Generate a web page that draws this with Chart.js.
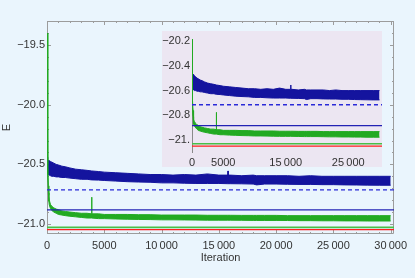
<!DOCTYPE html>
<html><head><meta charset="utf-8">
<script src="https://cdn.jsdelivr.net/npm/chart.js@4/dist/chart.umd.min.js"></script>
<style>
html,body{margin:0;padding:0;background:#eaf5fd;}
#wrap{position:relative;width:415px;height:278px;background:#eaf5fd;overflow:hidden;}
#main{position:absolute;left:0;top:0;}
#inset{position:absolute;left:162px;top:31px;background:#ece6f2;}
</style></head><body>
<div id="wrap"><canvas id="main" width="415" height="278"></canvas><canvas id="inset" width="220" height="136"></canvas></div>
<script>
// ---- data ----
const iterations = [0,40,80,120,160,200,300,400,600,800,1000,1300,1600,2000,2500,3000,3500,3880,3900,3920,4500,5000,6000,7000,8000,9000,10000,11000,12000,13000,14000,15000,15780,15800,15820,16000,17000,18000,18300,19000,20000,21000,22000,23000,24000,25000,26000,27000,28000,29000,30000];
const blueHigh = [-20.44,-20.45,-20.46,-20.465,-20.47,-20.47,-20.475,-20.48,-20.49,-20.5,-20.505,-20.515,-20.52,-20.53,-20.54,-20.545,-20.55,-20.555,-20.555,-20.555,-20.56,-20.565,-20.57,-20.575,-20.58,-20.585,-20.585,-20.59,-20.585,-20.59,-20.58,-20.59,-20.59,-20.555,-20.59,-20.59,-20.595,-20.59,-20.595,-20.595,-20.595,-20.595,-20.6,-20.595,-20.6,-20.6,-20.6,-20.6,-20.6,-20.6,-20.6];
const blueLow  = [-20.52,-20.57,-20.58,-20.585,-20.59,-20.59,-20.595,-20.6,-20.6,-20.605,-20.605,-20.61,-20.61,-20.615,-20.62,-20.625,-20.625,-20.63,-20.63,-20.63,-20.632,-20.635,-20.64,-20.645,-20.648,-20.65,-20.655,-20.655,-20.658,-20.66,-20.66,-20.66,-20.662,-20.662,-20.662,-20.662,-20.663,-20.665,-20.672,-20.665,-20.665,-20.667,-20.668,-20.668,-20.67,-20.67,-20.672,-20.673,-20.674,-20.675,-20.675];
const greenHigh = [-19.40,-20.15,-20.50,-20.68,-20.76,-20.80,-20.835,-20.85,-20.865,-20.875,-20.88,-20.89,-20.895,-20.9,-20.905,-20.91,-20.91,-20.915,-20.775,-20.915,-20.915,-20.92,-20.92,-20.92,-20.922,-20.922,-20.925,-20.925,-20.925,-20.925,-20.927,-20.927,-20.927,-20.927,-20.927,-20.927,-20.928,-20.928,-20.928,-20.928,-20.928,-20.93,-20.93,-20.93,-20.93,-20.93,-20.93,-20.93,-20.93,-20.93,-20.93];
const greenLow  = [-19.40,-20.25,-20.58,-20.74,-20.81,-20.84,-20.87,-20.885,-20.9,-20.91,-20.92,-20.925,-20.93,-20.935,-20.94,-20.945,-20.95,-20.95,-20.95,-20.95,-20.955,-20.955,-20.958,-20.96,-20.962,-20.963,-20.965,-20.965,-20.966,-20.967,-20.968,-20.968,-20.968,-20.968,-20.968,-20.968,-20.969,-20.97,-20.97,-20.97,-20.97,-20.971,-20.972,-20.972,-20.973,-20.973,-20.974,-20.974,-20.975,-20.975,-20.975];
const refValues = [-20.714, -20.882, -21.028, -21.047];
const mainXTicks = [0,5000,10000,15000,20000,25000,30000];
const mainXLabels = ['0','5000','10\u2009000','15\u2009000','20\u2009000','25\u2009000','30\u2009000'];
const mainYTicks = [-19.5,-20.0,-20.5,-21.0];
const mainYLabels = ['\u221219.5','\u221220.0','\u221220.5','\u221221.0'];
const insetXTicks = [0,5000,15000,25000];
const insetXLabels = ['0','5000','15\u2009000','25\u2009000'];
const insetYTicks = [-20.2,-20.4,-20.6,-20.8,-21.0];
const insetYLabels = ['\u221220.2','\u221220.4','\u221220.6','\u221220.8','\u221221.'];

// ---- styling ----
const FONT = {family:'"Liberation Sans", Arial, sans-serif', size:11};
const TXT = '#333333';
const BLUE = '#14149e';
const GREEN = '#22aa22';
const refStyles = [
  {color:'#2a2ad8', dash:[4,3], width:1.4},
  {color:'#2222b4', dash:[], width:1.4},
  {color:'#48bf48', dash:[], width:1.6},
  {color:'#ff1e1e', dash:[], width:1.4}
];

function pts(ys){ return iterations.map((x,i)=>({x, y:ys[i]})); }

function buildDatasets(xMax){
  const ds = refValues.map((v,i)=>({
    data:[{x:0,y:v},{x:xMax,y:v}],
    borderColor:refStyles[i].color, borderDash:refStyles[i].dash,
    borderWidth:refStyles[i].width, pointRadius:0, fill:false
  }));
  ds.push({data:pts(greenHigh), borderColor:GREEN, borderWidth:1, pointRadius:0, fill:false});
  ds.push({data:pts(greenLow), borderColor:GREEN, backgroundColor:GREEN, borderWidth:1, pointRadius:0, fill:'-1'});
  ds.push({data:pts(blueHigh), borderColor:BLUE, borderWidth:1, pointRadius:0, fill:false});
  ds.push({data:pts(blueLow), borderColor:BLUE, backgroundColor:BLUE, borderWidth:1, pointRadius:0, fill:'-1'});
  return ds;
}

const frameTicks = {
  id:'frameTicks',
  beforeDatasetsDraw(chart, args, o){
    const {ctx, chartArea:a, scales:{x, y}} = chart;
    ctx.save();
    ctx.strokeStyle = o.color; ctx.lineWidth = 1;
    ctx.beginPath();
    if (o.frame){
      ctx.rect(a.left+0.5, a.top+0.5, a.right-a.left-1, a.bottom-a.top-1);
      for (let v=0; v<=x.max; v+=1000){
        const px = Math.round(x.getPixelForValue(v))+0.5;
        const L = v%5000===0 ? 4 : 2;
        ctx.moveTo(px,a.bottom); ctx.lineTo(px,a.bottom-L);
        ctx.moveTo(px,a.top); ctx.lineTo(px,a.top+L);
      }
      for (let k=Math.ceil(y.min*10); k<=Math.floor(y.max*10); k++){
        const py = Math.round(y.getPixelForValue(k/10))+0.5;
        const L = k%5===0 ? 4 : 2;
        ctx.moveTo(a.left,py); ctx.lineTo(a.left+L,py);
        ctx.moveTo(a.right,py); ctx.lineTo(a.right-L,py);
      }
    } else {
      const px = Math.round(x.getPixelForValue(0))+0.5;
      ctx.moveTo(px,a.top); ctx.lineTo(px,a.bottom);
    }
    ctx.stroke();
    ctx.restore();
  }
};

function makeChart(canvas, cfg){
  return new Chart(canvas, {
    type:'line',
    data:{datasets:buildDatasets(cfg.xMax)},
    options:{
      responsive:false, animation:false, devicePixelRatio:1,
      layout:{padding:cfg.padding},
      elements:{line:{tension:0}},
      plugins:{legend:{display:false}, tooltip:{enabled:false}, frameTicks:{color:cfg.frameColor, frame:cfg.frame}},
      scales:{
        x:{type:'linear', min:0, max:cfg.xMax,
          afterBuildTicks:s=>{ s.ticks = cfg.xTicks.map(v=>({value:v})); },
          ticks:{autoSkip:false, maxRotation:0, minRotation:0, padding:cfg.xPad, font:FONT, color:TXT,
            callback:(v)=>cfg.xLabels[cfg.xTicks.indexOf(v)]},
          grid:{display:false, drawTicks:false}, border:{display:false},
          title:{display:!!cfg.xTitle, text:cfg.xTitle||'', font:FONT, color:TXT, padding:{top:0,bottom:13}},
          afterFit:s=>{ s.height = cfg.xH; }
        },
        y:{type:'linear', min:cfg.yMin, max:cfg.yMax,
          afterBuildTicks:s=>{ s.ticks = cfg.yTicks.map(v=>({value:v})); },
          ticks:{autoSkip:false, padding:cfg.yPad, font:FONT, color:TXT,
            callback:(v)=>cfg.yLabels[cfg.yTicks.findIndex(t=>Math.abs(t-v)<1e-9)]},
          grid:{display:false, drawTicks:false}, border:{display:false},
          title:{display:!!cfg.yTitle, text:cfg.yTitle||'', font:FONT, color:TXT, padding:{top:0,bottom:0}},
          afterFit:s=>{ s.width = cfg.yW; }
        }
      }
    },
    plugins:[frameTicks]
  });
}

makeChart(document.getElementById('main'), {
  xMax:30290, yMin:-21.084, yMax:-19.297,
  padding:{top:21, right:21, left:0, bottom:0},
  xTicks:mainXTicks, xLabels:mainXLabels, yTicks:mainYTicks, yLabels:mainYLabels,
  xPad:5, yPad:2, xH:44, yW:47, xTitle:'Iteration', yTitle:'E',
  frameColor:'#9c9c9c', frame:true
});

makeChart(document.getElementById('inset'), {
  xMax:30400, yMin:-21.102, yMax:-20.19,
  padding:{top:6, right:0, left:0, bottom:0},
  xTicks:insetXTicks, xLabels:insetXLabels, yTicks:insetYTicks, yLabels:insetYLabels,
  xPad:3, yPad:2, xH:14, yW:30,
  frameColor:'#8a8a8a', frame:false
});
</script>
</body></html>
